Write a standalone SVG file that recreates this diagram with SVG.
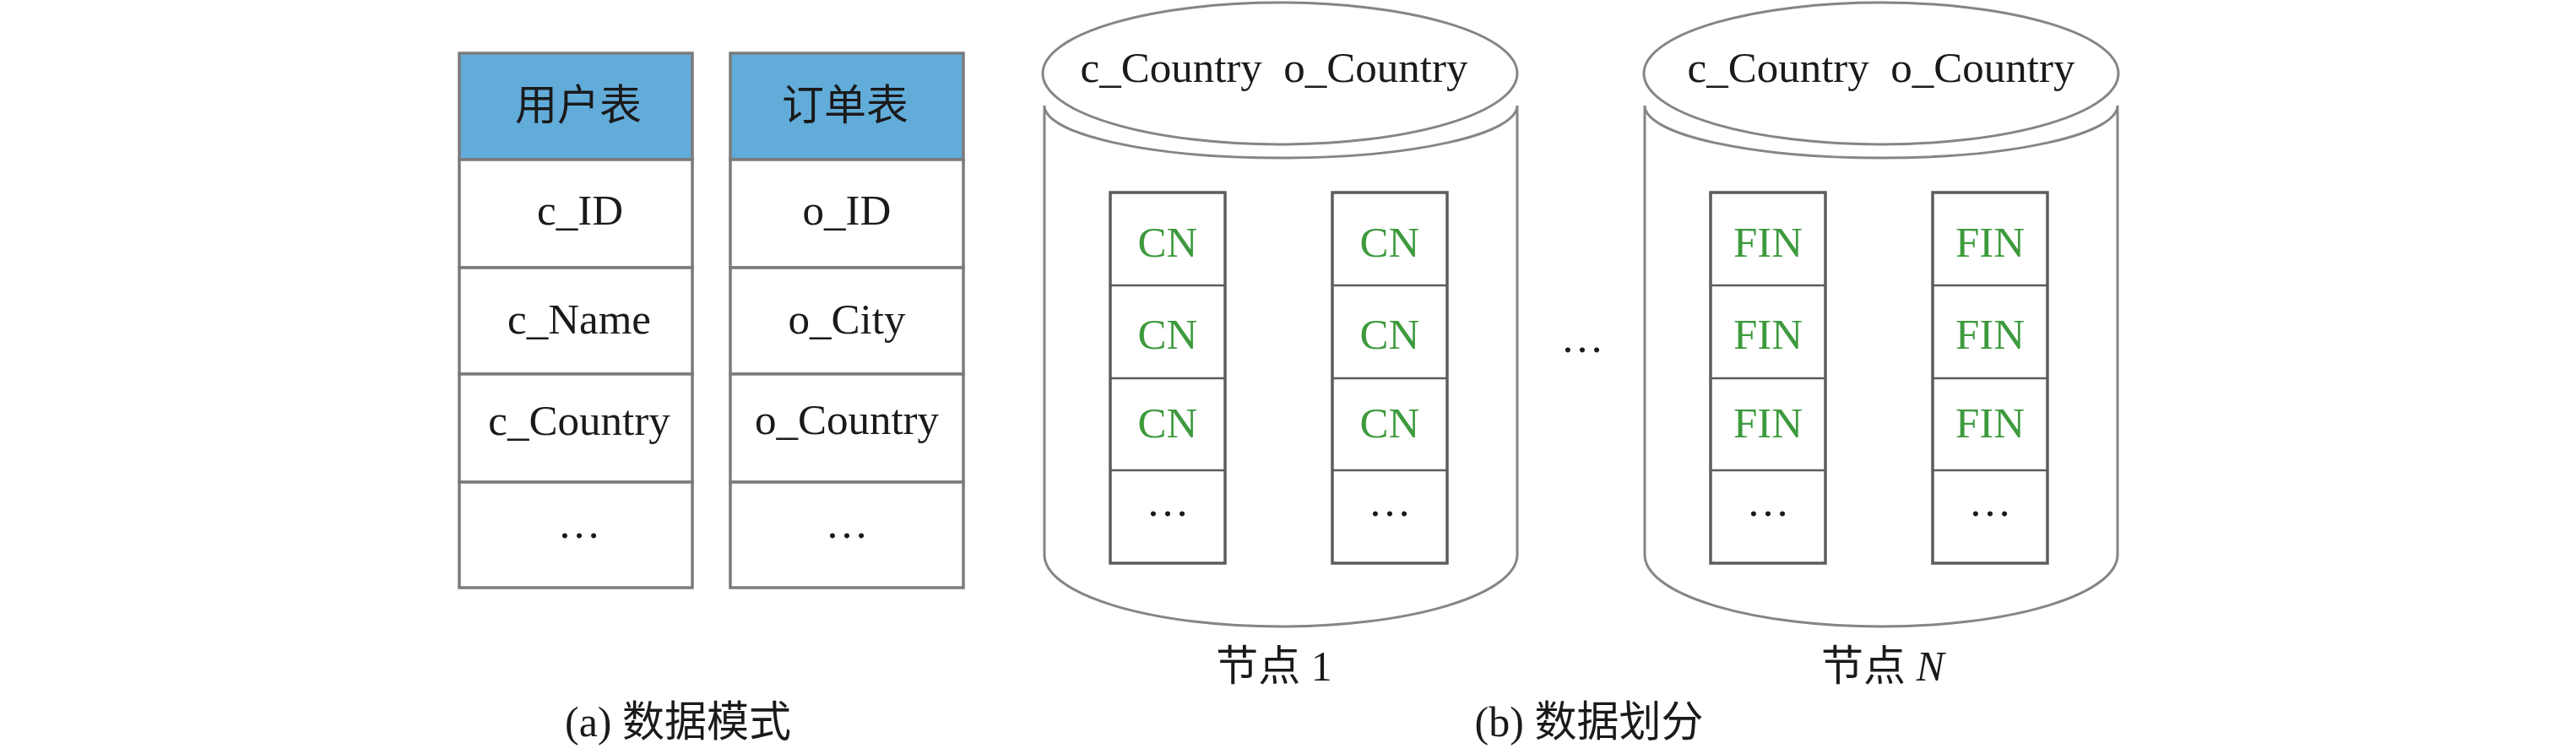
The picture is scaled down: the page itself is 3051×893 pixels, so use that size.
<svg xmlns="http://www.w3.org/2000/svg" width="3051" height="893" viewBox="0 0 3051 893">
<style>
.bg{fill:#fff}
.cell{fill:#fff;stroke:#7b7b7b;stroke-width:3.5}
.hd{fill:#62ACDA;stroke:#7b7b7b;stroke-width:3.5}
.t{font-family:"Liberation Serif","Noto Sans CJK SC",serif;font-size:51px;fill:#1a1a1a;text-anchor:middle}
.zh{font-family:"Liberation Serif","Noto Sans CJK SC",sans-serif;font-size:50px;fill:#1a1a1a;text-anchor:middle}
.g{fill:#3D9A3D}
.cylw{fill:#fff;stroke:#858585;stroke-width:3}
.col{fill:#fff;stroke:#5c5c5c;stroke-width:3.5}
.sep{stroke:#5c5c5c;stroke-width:2.5}
</style>
<rect class="bg" x="0" y="0" width="3051" height="893"/>

<g id="table-users">
  <rect class="hd" x="544" y="63" width="276" height="126"/>
  <rect class="cell" x="544" y="189" width="276" height="128"/>
  <rect class="cell" x="544" y="317" width="276" height="126"/>
  <rect class="cell" x="544" y="443" width="276" height="128"/>
  <rect class="cell" x="544" y="571" width="276" height="125"/>
  <text class="zh" x="685" y="142" font-size="52">用户表</text>
  <text class="t" x="687" y="266">c_ID</text>
  <text class="t" x="686" y="395">c_Name</text>
  <text class="t" x="686" y="515">c_Country</text>
  <text class="t" x="686" y="637">…</text>
</g>

<g id="table-orders">
  <rect class="hd" x="865" y="63" width="276" height="126"/>
  <rect class="cell" x="865" y="189" width="276" height="128"/>
  <rect class="cell" x="865" y="317" width="276" height="126"/>
  <rect class="cell" x="865" y="443" width="276" height="128"/>
  <rect class="cell" x="865" y="571" width="276" height="125"/>
  <text class="zh" x="1001" y="142" font-size="52">订单表</text>
  <text class="t" x="1003" y="266">o_ID</text>
  <text class="t" x="1003" y="395">o_City</text>
  <text class="t" x="1003" y="514">o_Country</text>
  <text class="t" x="1003" y="637">…</text>
</g>

<g id="node-1">
  <path class="cylw" d="M1237,125 L1237,657 A280,85 0 0 0 1797,657 L1797,125 A280,62 0 0 1 1237,125 Z"/>
  <ellipse class="cylw" cx="1516" cy="87" rx="281" ry="84"/>
  <text class="t" x="1509" y="97" style="white-space:pre">c_Country  o_Country</text>
  <g id="node-1-col-1">
    <rect class="col" x="1315" y="228" width="136" height="439"/>
    <line class="sep" x1="1315" y1="338" x2="1451" y2="338"/>
    <line class="sep" x1="1315" y1="448" x2="1451" y2="448"/>
    <line class="sep" x1="1315" y1="557" x2="1451" y2="557"/>
    <text class="t g" x="1383" y="304">CN</text>
    <text class="t g" x="1383" y="413">CN</text>
    <text class="t g" x="1383" y="518">CN</text>
    <text class="t" x="1383" y="611">…</text>
  </g>
  <g id="node-1-col-2">
    <rect class="col" x="1578" y="228" width="136" height="439"/>
    <line class="sep" x1="1578" y1="338" x2="1714" y2="338"/>
    <line class="sep" x1="1578" y1="448" x2="1714" y2="448"/>
    <line class="sep" x1="1578" y1="557" x2="1714" y2="557"/>
    <text class="t g" x="1646" y="304">CN</text>
    <text class="t g" x="1646" y="413">CN</text>
    <text class="t g" x="1646" y="518">CN</text>
    <text class="t" x="1646" y="611">…</text>
  </g>
  <text class="zh" x="1509" y="806" font-size="48">节点 <tspan font-family="Liberation Serif">1</tspan></text>
</g>

<text class="t" x="1874" y="417">…</text>

<g id="node-n">
  <path class="cylw" d="M1948,125 L1948,657 A280,85 0 0 0 2508,657 L2508,125 A280,62 0 0 1 1948,125 Z"/>
  <ellipse class="cylw" cx="2228" cy="87" rx="281" ry="84"/>
  <text class="t" x="2228" y="97" style="white-space:pre">c_Country  o_Country</text>
  <g id="node-n-col-1">
    <rect class="col" x="2026" y="228" width="136" height="439"/>
    <line class="sep" x1="2026" y1="338" x2="2162" y2="338"/>
    <line class="sep" x1="2026" y1="448" x2="2162" y2="448"/>
    <line class="sep" x1="2026" y1="557" x2="2162" y2="557"/>
    <text class="t g" x="2094" y="304">FIN</text>
    <text class="t g" x="2094" y="413">FIN</text>
    <text class="t g" x="2094" y="518">FIN</text>
    <text class="t" x="2094" y="611">…</text>
  </g>
  <g id="node-n-col-2">
    <rect class="col" x="2289" y="228" width="136" height="439"/>
    <line class="sep" x1="2289" y1="338" x2="2425" y2="338"/>
    <line class="sep" x1="2289" y1="448" x2="2425" y2="448"/>
    <line class="sep" x1="2289" y1="557" x2="2425" y2="557"/>
    <text class="t g" x="2357" y="304">FIN</text>
    <text class="t g" x="2357" y="413">FIN</text>
    <text class="t g" x="2357" y="518">FIN</text>
    <text class="t" x="2357" y="611">…</text>
  </g>
  <text class="zh" x="2230" y="806" font-size="48">节点 <tspan font-family="Liberation Serif" font-style="italic">N</tspan></text>
</g>

<g id="connectors"></g>

<text class="zh" x="803" y="872" font-size="51"><tspan font-family="Liberation Serif">(a)</tspan> 数据模式</text>
<text class="zh" x="1882" y="872" font-size="51"><tspan font-family="Liberation Serif">(b)</tspan> 数据划分</text>
</svg>
